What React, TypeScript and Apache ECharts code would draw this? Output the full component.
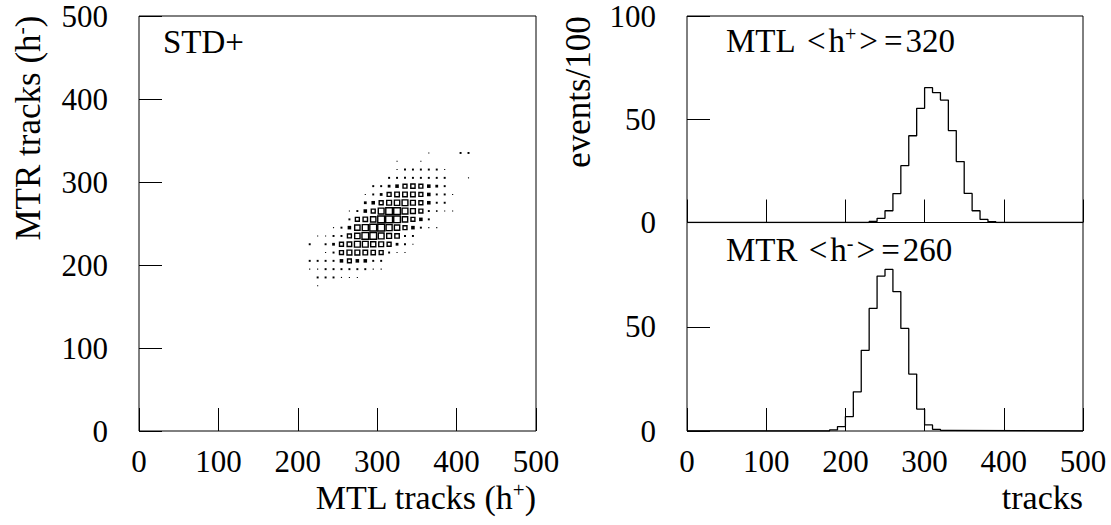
import React, { useEffect, useRef } from "react";
import * as echarts from "echarts";

// ---- data ----
const axisMin = 0;
const axisMax = 500;
const axisStep = 100;
const histMax = 100;
const histStep = 50;
const binWidth = 10;

// MTL (h+) histogram, bin lower edges and events/100
const mtlBins = [230, 240, 250, 260, 270, 280, 290, 300, 310, 320, 330, 340, 350, 360, 370, 380];
const mtlCounts = [0.5, 2.0, 5.7, 14.0, 27.5, 42.0, 55.3, 65.3, 62.9, 59.3, 44.5, 29.5, 14.1, 5.7, 1.5, 0.4];

// MTR (h-) histogram
const mtrBins = [180, 190, 200, 210, 220, 230, 240, 250, 260, 270, 280, 290, 300, 310, 320];
const mtrCounts = [0.5, 2.1, 6.9, 18.8, 38.7, 58.8, 74.3, 77.5, 66.8, 49.2, 27.3, 10.5, 2.9, 0.8, 0.3];

// 2D box histogram: [MTL, MTR, content]
const scatterCells: [number, number, number][] = [
  [365, 335, 2], [405, 335, 6], [415, 335, 6],
  [325, 325, 2], [355, 325, 2],
  [325, 315, 2], [335, 315, 6], [345, 315, 6], [355, 315, 6], [365, 315, 6], [375, 315, 6], [385, 315, 2],
  [315, 305, 6], [325, 305, 6], [335, 305, 6], [345, 305, 6], [355, 305, 6], [365, 305, 6], [375, 305, 6], [385, 305, 6], [415, 305, 2],
  [295, 295, 6], [305, 295, 6], [315, 295, 12], [325, 295, 20], [335, 295, 30], [345, 295, 35], [355, 295, 30], [365, 295, 20], [375, 295, 12], [385, 295, 6],
  [285, 285, 2], [295, 285, 6], [305, 285, 12], [315, 285, 30], [325, 285, 40], [335, 285, 40], [345, 285, 40], [355, 285, 30], [365, 285, 20], [375, 285, 6], [385, 285, 6], [395, 285, 2],
  [285, 275, 12], [295, 275, 20], [305, 275, 30], [315, 275, 45], [325, 275, 55], [335, 275, 65], [345, 275, 45], [355, 275, 30], [365, 275, 20], [375, 275, 6], [385, 275, 6],
  [265, 265, 2], [275, 265, 6], [285, 265, 20], [295, 265, 30], [305, 265, 65], [315, 265, 85], [325, 265, 85], [335, 265, 65], [345, 265, 45], [355, 265, 30], [365, 265, 6], [375, 265, 4], [385, 265, 2], [395, 265, 2],
  [265, 255, 6], [275, 255, 30], [285, 255, 38], [295, 255, 55], [305, 255, 90], [315, 255, 90], [325, 255, 85], [335, 255, 55], [345, 255, 30], [355, 255, 20], [365, 255, 6],
  [245, 245, 2], [255, 245, 6], [265, 245, 20], [275, 245, 55], [285, 245, 70], [295, 245, 90], [305, 245, 90], [315, 245, 70], [325, 245, 55], [335, 245, 30], [345, 245, 20], [355, 245, 6], [365, 245, 2], [375, 245, 2],
  [225, 235, 2], [235, 235, 2], [245, 235, 6], [255, 235, 6], [265, 235, 30], [275, 235, 55], [285, 235, 85], [295, 235, 85], [305, 235, 65], [315, 235, 45], [325, 235, 38], [335, 235, 6], [345, 235, 6],
  [215, 225, 6], [235, 225, 6], [245, 225, 12], [255, 225, 30], [265, 225, 40], [275, 225, 65], [285, 225, 65], [295, 225, 50], [305, 225, 45], [315, 225, 30], [325, 225, 12], [335, 225, 6], [345, 225, 2],
  [235, 215, 2], [245, 215, 6], [255, 215, 30], [265, 215, 45], [275, 215, 45], [285, 215, 40], [295, 215, 35], [305, 215, 30], [315, 215, 6], [325, 215, 2], [335, 215, 2],
  [215, 205, 6], [225, 205, 6], [235, 205, 6], [245, 205, 6], [255, 205, 20], [265, 205, 28], [275, 205, 20], [285, 205, 20], [295, 205, 6], [305, 205, 6],
  [215, 195, 2], [225, 195, 2], [235, 195, 6], [245, 195, 6], [255, 195, 6], [265, 195, 6], [275, 195, 6], [285, 195, 6], [295, 195, 2], [305, 195, 2],
  [225, 185, 6], [235, 185, 6], [245, 185, 6], [255, 185, 2], [265, 185, 2], [275, 185, 2],
  [225, 175, 2],
];

const panelTitle = "STD+";
const mtlLabel = { name: "MTL ", sup: "+", value: "320" };
const mtrLabel = { name: "MTR ", sup: "-", value: "260" };
const xTitleLeft = { pre: "MTL tracks (h", sup: "+", post: ")" };
const yTitleLeft = { pre: "MTR tracks (h", sup: "-", post: ")" };
const yTitleRight = "events/100";
const xTitleRight = "tracks";

const FONT = "Liberation Serif";
const FS_TICK = 31;
const FS_IN = 33;
const FS_XT = 34;
const FS_YT = 35;

function stepData(bins: number[], counts: number[]) {
  const pts: number[][] = [[axisMin, 0]];
  bins.forEach((b, i) => pts.push([b, counts[i]]));
  pts.push([bins[bins.length - 1] + binWidth, 0]);
  pts.push([axisMax, 0]);
  return pts;
}

const supRich = (fs: number) => ({
  sup: { fontFamily: FONT, fontSize: Math.round(fs * 0.62), fill: "#000", verticalAlign: "top", padding: [0, 0, Math.round(fs * 0.45), 0] },
  op: { fontFamily: FONT, fontSize: fs, fill: "#000", padding: [0, 3, 0, 3] },
});

function richTitle(t: { pre: string; sup: string; post: string }) {
  return t.pre + "{sup|" + t.sup + "}" + t.post;
}
function richMean(t: { name: string; sup: string; value: string }) {
  return t.name + "{op|<}h{sup|" + t.sup + "}{op|>}{op|=}" + t.value;
}

export default function App() {
  const ref = useRef<HTMLDivElement>(null);
  useEffect(() => {
    if (!ref.current) return;
    const chart = echarts.init(ref.current, undefined, { renderer: "svg" });
    const lab = { fontFamily: FONT, fontSize: FS_TICK, color: "#000" };
    const tickStyle = { color: "#000", width: 1 };
    const gridBase = { show: true, borderColor: "#000", borderWidth: 1, backgroundColor: "transparent" };

    const valueAxis = (gridIndex: number, min: number, max: number, interval: number, showLabel: boolean, margin: number, extra: any = {}) => ({
      type: "value",
      gridIndex,
      min,
      max,
      interval,
      axisLine: { show: false },
      axisTick: { show: true, inside: true, length: 23, lineStyle: tickStyle },
      splitLine: { show: false },
      axisLabel: { show: showLabel, ...lab, margin },
      ...extra,
    });

    const hollow = scatterCells.filter((c) => c[2] >= 25);
    const filled = scatterCells.filter((c) => c[2] < 25);

    const option: any = {
      animation: false,
      backgroundColor: "#fff",
      grid: [
        { ...gridBase, left: 139, top: 16, width: 397, height: 415 },
        { ...gridBase, left: 687, top: 16, width: 396, height: 206.5 },
        { ...gridBase, left: 687, top: 222.5, width: 396, height: 208.5 },
      ],
      xAxis: [
        valueAxis(0, axisMin, axisMax, axisStep, true, 15),
        valueAxis(1, axisMin, axisMax, axisStep, false, 15),
        valueAxis(2, axisMin, axisMax, axisStep, true, 15),
      ],
      yAxis: [
        valueAxis(0, axisMin, axisMax, axisStep, true, 31),
        valueAxis(1, 0, histMax, histStep, true, 31),
        valueAxis(2, 0, histMax, histStep, true, 31, { axisLabel: { show: true, ...lab, margin: 31, showMaxLabel: false } }),
      ],
      series: [
        {
          type: "scatter",
          xAxisIndex: 0,
          yAxisIndex: 0,
          symbol: "rect",
          symbolSize: (v: number[]) => 8 * Math.sqrt(v[2] / 100),
          itemStyle: { color: "#000", opacity: 1 },
          data: filled,
        },
        {
          type: "scatter",
          xAxisIndex: 0,
          yAxisIndex: 0,
          symbol: "rect",
          symbolSize: (v: number[]) => 7.2 * Math.sqrt(v[2] / 100),
          itemStyle: { color: "rgba(255,255,255,0)", borderColor: "#000", borderWidth: 1.4, opacity: 1 },
          data: hollow,
        },
        {
          type: "line",
          xAxisIndex: 1,
          yAxisIndex: 1,
          step: "end",
          symbol: "none",
          lineStyle: { color: "#000", width: 1.3 },
          data: stepData(mtlBins, mtlCounts),
        },
        {
          type: "line",
          xAxisIndex: 2,
          yAxisIndex: 2,
          step: "end",
          symbol: "none",
          lineStyle: { color: "#000", width: 1.3 },
          data: stepData(mtrBins, mtrCounts),
        },
      ],
      graphic: [
        {
          type: "text",
          x: 163,
          y: 42,
          style: { text: panelTitle, fontFamily: FONT, fontSize: FS_IN, fill: "#000", verticalAlign: "middle" },
        },
        {
          type: "text",
          x: 726,
          y: 41,
          style: { text: richMean(mtlLabel), fontFamily: FONT, fontSize: FS_IN, fill: "#000", verticalAlign: "middle", rich: supRich(FS_IN) },
        },
        {
          type: "text",
          x: 726,
          y: 250,
          style: { text: richMean(mtrLabel), fontFamily: FONT, fontSize: FS_IN, fill: "#000", verticalAlign: "middle", rich: supRich(FS_IN) },
        },
        {
          type: "text",
          x: 536,
          y: 497,
          style: { text: richTitle(xTitleLeft), fontFamily: FONT, fontSize: FS_XT, fill: "#000", align: "right", verticalAlign: "middle", rich: supRich(FS_XT) },
        },
        {
          type: "text",
          x: 1083,
          y: 497,
          style: { text: xTitleRight, fontFamily: FONT, fontSize: FS_XT, fill: "#000", align: "right", verticalAlign: "middle" },
        },
        {
          type: "text",
          x: 28,
          y: 128,
          rotation: Math.PI / 2,
          style: { text: richTitle(yTitleLeft), fontFamily: FONT, fontSize: FS_YT, fill: "#000", align: "center", verticalAlign: "middle", rich: supRich(FS_YT) },
        },
        {
          type: "text",
          x: 578,
          y: 92,
          rotation: Math.PI / 2,
          style: { text: yTitleRight, fontFamily: FONT, fontSize: FS_YT, fill: "#000", align: "center", verticalAlign: "middle" },
        },
      ],
    };
    chart.setOption(option);
    return () => chart.dispose();
  }, []);
  return (
    <div
      ref={ref}
      style={{ position: "fixed", left: 0, top: 0, width: 1111, height: 525, background: "#fff" }}
    />
  );
}
